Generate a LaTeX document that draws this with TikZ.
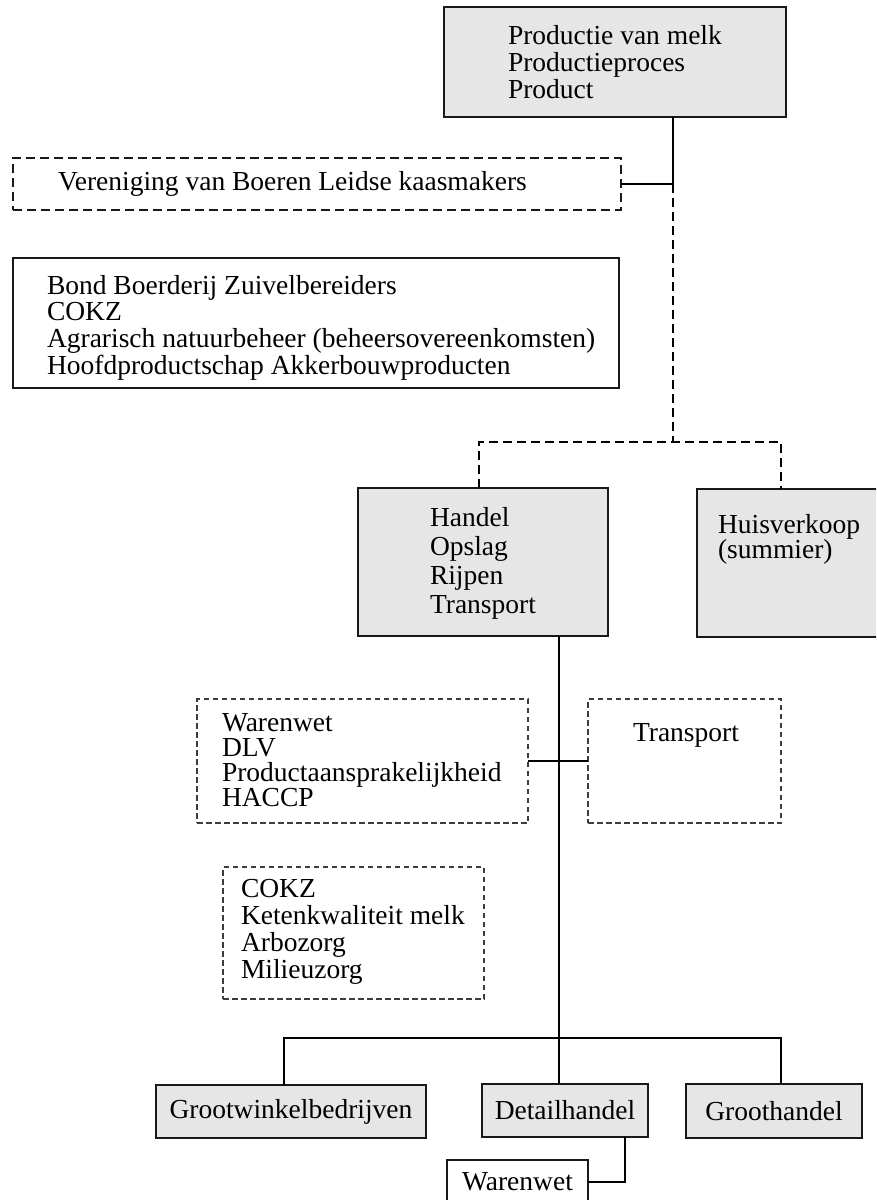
\documentclass[tikz,border=0pt]{standalone}
\usepackage{fontspec}
\setmainfont{Liberation Serif}
\definecolor{boxfill}{RGB}{230,230,230}
\definecolor{finedash}{RGB}{60,60,60}
% invisible strut that fixes the top of the first text line
\newcommand{\fstrut}{\rule{0pt}{20pt}}

\begin{document}
\lineskiplimit=-20pt
\begin{tikzpicture}[x=1pt,y=-1pt,
  every node/.style={inner sep=0pt,outer sep=0pt,anchor=north west},
  basebox/.style={rectangle,line width=1.8pt,font={\fontsize{27.5}{27}\selectfont}},
  greybox/.style={basebox,draw=black!90,fill=boxfill},
  whitebox/.style={basebox,draw=black!90,fill=white},
  dashbox/.style={basebox,draw=black!90,fill=white,dash pattern=on 9pt off 5pt,line width=1.5pt},
  finebox/.style={basebox,draw=finedash,fill=white,dash pattern=on 5.5pt off 3.5pt,line width=1.3pt},
  txt/.style={align=left,font={\fontsize{27.5}{#1}\selectfont}},
  txt/.default=27,
  wire/.style={draw=black,line width=2pt},
  dwire/.style={draw=black,line width=2pt,dash pattern=on 9pt off 5pt},
]
\useasboundingbox (0,0) rectangle (876,1200);
\clip (0,0) rectangle (876,1200);
\fill[white] (0,0) rectangle (876,1200);

% boxes
\node[greybox,minimum width=342pt,minimum height=110pt] (top) at (444,7) {};
\node[dashbox,minimum width=608pt,minimum height=52pt] (ver) at (13,158) {};
\node[whitebox,minimum width=606pt,minimum height=130pt] (bond) at (13,258) {};
\node[greybox,minimum width=250pt,minimum height=148pt] (han) at (358,488) {};
\node[greybox,minimum width=190pt,minimum height=148pt] (hui) at (697,489) {};
\node[finebox,minimum width=331pt,minimum height=124pt] (ww) at (197,699) {};
\node[finebox,minimum width=193pt,minimum height=124pt] (tr) at (588,699) {};
\node[finebox,minimum width=261pt,minimum height=132pt] (cokz) at (223,867) {};
\node[greybox,minimum width=270pt,minimum height=53pt] (gw) at (156,1085) {Grootwinkelbedrijven};
\node[greybox,minimum width=166pt,minimum height=53pt] (det) at (482,1084) {Detailhandel};
\node[greybox,minimum width=176pt,minimum height=54pt] (gh) at (686,1084) {Groothandel};
\node[whitebox,minimum width=141pt,minimum height=44pt] (wb) at (447,1160) {Warenwet};

% texts inside the boxes
\node[txt] (top-t) at (508,24) {\fstrut Productie van melk\\Productieproces\\Product};
\node[txt] (ver-t) at (58,170) {\fstrut Vereniging van Boeren Leidse kaasmakers};
\node[txt=26.7] (bond-t) at (47,274) {\fstrut Bond Boerderij Zuivelbereiders\\COKZ\\Agrarisch natuurbeheer (beheersovereenkomsten)\\Hoofdproductschap Akkerbouwproducten};
\node[txt=29] (han-t) at (430,506) {\fstrut Handel\\Opslag\\Rijpen\\Transport};
\node[txt=25] (hui-t) at (718,513) {\fstrut Huisverkoop\\(summier)};
\node[txt] (tr-t) at (633,721) {\fstrut Transport};
\node[txt=25.3] (ww-t) at (222,711) {\fstrut Warenwet\\DLV\\Productaansprakelijkheid\\HACCP};
\node[txt] (cokz-t) at (241,877) {\fstrut COKZ\\Ketenkwaliteit melk\\Arbozorg\\Milieuzorg};

% junction points
\coordinate (jv) at (673,184);
\coordinate (jd) at (673,442);
\coordinate (jl) at (479,442);
\coordinate (jr) at (781,442);
\coordinate (jm) at (559,1038);
\coordinate (jg) at (284,1038);
\coordinate (jh) at (781,1038);
\coordinate (jw) at (625,1182);

% connectors
\draw[wire] (top.south -| jv) -- (jv);
\draw[wire] (ver.east) -- (jv);
\draw[dwire] (jv) -- (jd);
\draw[dwire] (han.north -| jl) -- (jl) -- (jr) -- (hui.north -| jr);
\draw[wire] (han.south -| jm) -- (det.north -| jm);
\draw[wire] (ww.east) -- (tr.west);
\draw[wire] (gw.north -| jg) -- (jg) -- (jh) -- (gh.north -| jh);
\draw[wire] (det.south -| jw) -- (jw) -- (wb.east);
\end{tikzpicture}
\end{document}
